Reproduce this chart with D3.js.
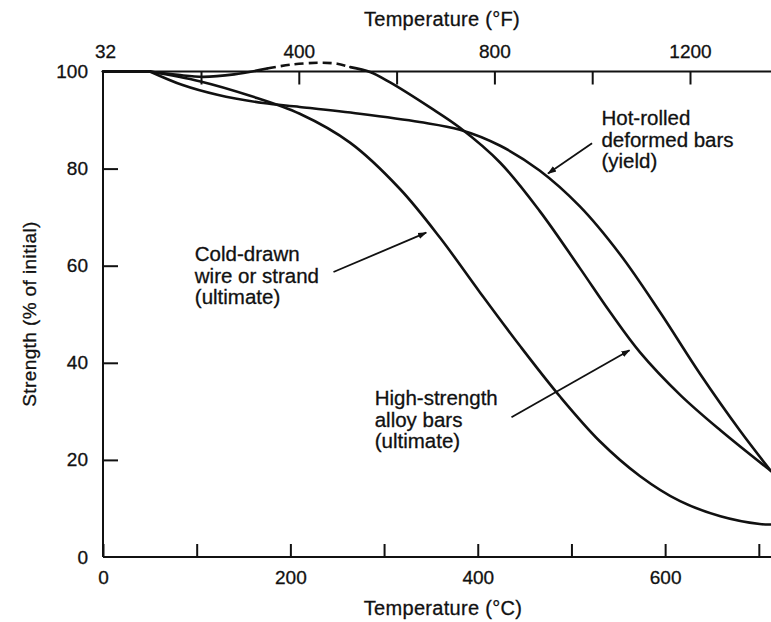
<!DOCTYPE html>
<html>
<head>
<meta charset="utf-8">
<script src="https://cdn.jsdelivr.net/npm/d3@7/dist/d3.min.js"></script>
<style>
  html, body { margin: 0; padding: 0; background: #fff; }
  svg { display: block; }
  text { font-family: "Liberation Sans", Arial, Helvetica, sans-serif; fill: #111; stroke: #111; stroke-width: 0.3px; }
</style>
</head>
<body>
<svg id="chart" width="771" height="622"></svg>
<script>
// ---------------- data ----------------
const celsiusTicks = [0, 100, 200, 300, 400, 500, 600, 700];
const celsiusLabels = [0, 200, 400, 600];
const fahrenheitTicks = [32, 200, 400, 600, 800, 1000, 1200];
const fahrenheitLabels = [32, 400, 800, 1200];
const strengthTicks = [0, 20, 40, 60, 80, 100];

// Hot-rolled deformed bars (yield)
const hotRolledTemp = [0, 50, 85, 122, 171, 210, 274, 338, 381, 424, 466, 509, 552, 595, 637, 680, 713];
const hotRolledVal  = [100, 100, 97.2, 95.2, 93.5, 92.7, 91.3, 89.6, 88.0, 84.7, 79.6, 72.2, 62.3, 50.3, 37.8, 26.0, 17.7];

// High-strength alloy bars (ultimate): solid, dashed, solid
const alloyTempA = [0, 50, 80, 107, 140, 175];
const alloyValA  = [100, 100, 99.3, 98.9, 99.4, 100.6];
const alloyTempDash = [175, 200, 230, 250, 264];
const alloyValDash  = [100.6, 101.4, 101.8, 101.6, 100.9];
const alloyTempB = [264, 285, 306, 349, 381, 424, 466, 509, 541, 573, 616, 659, 713];
const alloyValB  = [100.9, 99.9, 97.8, 92.6, 88.4, 81.2, 71.3, 59.5, 50.5, 42.2, 33.4, 26.1, 17.7];

// Cold-drawn wire or strand (ultimate)
const coldTemp = [0, 50, 103, 157, 210, 264, 317, 360, 402, 445, 488, 530, 573, 616, 659, 701, 713];
const coldVal  = [100, 100, 98.0, 95.0, 91.3, 85.3, 75.8, 65.7, 54.6, 43.5, 33.0, 23.9, 16.7, 11.5, 8.4, 6.8, 6.7];

// annotations: label lines, text anchor (temp, value), arrow from/to (temp, value)
const annoText = [
  ["Hot-rolled", "deformed bars", "(yield)"],
  ["Cold-drawn", "wire or strand", "(ultimate)"],
  ["High-strength", "alloy bars", "(ultimate)"]
];
const annoPos = [[532, 88.9], [98, 60.9], [290, 31.3]];
const arrowFrom = [[522, 85.2], [246, 58.7], [436, 28.8]];
const arrowTo   = [[475, 79], [345, 66.8], [562, 42.6]];

// ---------------- chart ----------------
const svg = d3.select("#chart");
const x = d3.scaleLinear().domain([0, 713]).range([103, 771]);
const y = d3.scaleLinear().domain([0, 100]).range([557, 71.5]);
const xF = d3.scaleLinear().domain([32, 200, 1200]).range([105, 201, 690]);

const TICKFONT = 19;
const TITLEFONT = 20;
const ANNOFONT = 20.5;

// frame lines
const frame = svg.append("g").attr("stroke", "#111").attr("stroke-width", 2).attr("fill", "none");
frame.append("line").attr("x1", x(0)).attr("x2", x(713)).attr("y1", y(100)).attr("y2", y(100));
frame.append("line").attr("x1", x(0)).attr("x2", x(713)).attr("y1", y(0)).attr("y2", y(0));
frame.append("line").attr("x1", x(0)).attr("x2", x(0)).attr("y1", y(0)).attr("y2", y(100));

// bottom axis (°C)
const axB = svg.append("g").attr("transform", `translate(0,${y(0)})`)
  .call(d3.axisBottom(x).tickValues(celsiusTicks).tickSizeInner(-13).tickSizeOuter(0).tickPadding(14)
    .tickFormat(d => celsiusLabels.includes(d) ? d : ""));
// top axis (°F)
const axT = svg.append("g").attr("transform", `translate(0,${y(100)})`)
  .call(d3.axisTop(xF).tickValues(fahrenheitTicks).tickSizeInner(-13).tickSizeOuter(0).tickPadding(14)
    .tickFormat(d => fahrenheitLabels.includes(d) ? d : ""));
axT.selectAll(".tick").filter(d => d === 32).select("line").remove();
// left axis
const axL = svg.append("g").attr("transform", `translate(${x(0)},0)`)
  .call(d3.axisLeft(y).tickValues(strengthTicks).tickSizeInner(-15).tickSizeOuter(0).tickPadding(15));
axL.selectAll(".tick").filter(d => d === 0 || d === 100).select("line").remove();

[axB, axT, axL].forEach(a => {
  a.select(".domain").remove();
  a.selectAll(".tick line").attr("stroke", "#111").attr("stroke-width", 2);
  a.selectAll(".tick text").attr("font-size", TICKFONT).attr("fill", "#111")
    .attr("font-family", "'Liberation Sans', Arial, sans-serif");
});

// axis titles
svg.append("text").attr("x", 442).attr("y", 26).attr("text-anchor", "middle")
  .attr("font-size", TITLEFONT).attr("letter-spacing", 0.3).text("Temperature (°F)");
svg.append("text").attr("x", 443).attr("y", 615).attr("text-anchor", "middle")
  .attr("font-size", TITLEFONT).attr("letter-spacing", 0.3).text("Temperature (°C)");
svg.append("text").attr("transform", "translate(36,314) rotate(-90)").attr("text-anchor", "middle")
  .attr("font-size", TITLEFONT - 1).attr("letter-spacing", 0.4).text("Strength (% of initial)");

// curves: flat part along the 100 % line (linear), then a smooth spline
const smooth = d3.line().x(d => x(d[0])).y(d => y(d[1])).curve(d3.curveCatmullRom.alpha(0.5));
const straight = d3.line().x(d => x(d[0])).y(d => y(d[1]));
const zip = (a, b) => a.map((t, i) => [t, b[i]]);
const curves = svg.append("g").attr("fill", "none").attr("stroke", "#111").attr("stroke-width", 2.6)
  .attr("stroke-linecap", "round");
function drawSeries(temps, vals) {
  const pts = zip(temps, vals);
  const flat = pts.filter(p => p[0] <= 50);
  const rest = pts.filter(p => p[0] >= 50);
  if (flat.length > 1) curves.append("path").attr("d", straight(flat));
  curves.append("path").attr("d", smooth(rest));
}
drawSeries(hotRolledTemp, hotRolledVal);
drawSeries(coldTemp, coldVal);
drawSeries(alloyTempA, alloyValA);
drawSeries(alloyTempB, alloyValB);
curves.append("path").attr("d", smooth(zip(alloyTempDash, alloyValDash)))
  .attr("stroke-dasharray", "9,5").attr("stroke-linecap", "butt");

// arrow marker
svg.append("defs").append("marker").attr("id", "ah").attr("viewBox", "0 0 10 10")
  .attr("refX", 9).attr("refY", 5).attr("markerWidth", 9).attr("markerHeight", 9)
  .attr("markerUnits", "userSpaceOnUse").attr("orient", "auto")
  .append("path").attr("d", "M0,1.5 L10,5 L0,8.5 Z").attr("fill", "#111");

// annotations
annoText.forEach((lines, i) => {
  const t = svg.append("text").attr("font-size", ANNOFONT)
    .attr("x", x(annoPos[i][0])).attr("y", y(annoPos[i][1]));
  lines.forEach((l, j) => t.append("tspan").attr("x", x(annoPos[i][0])).attr("dy", j === 0 ? 0 : 21.5).text(l));
  svg.append("line").attr("x1", x(arrowFrom[i][0])).attr("y1", y(arrowFrom[i][1]))
    .attr("x2", x(arrowTo[i][0])).attr("y2", y(arrowTo[i][1]))
    .attr("stroke", "#111").attr("stroke-width", 1.8).attr("marker-end", "url(#ah)");
});
</script>
</body>
</html>
